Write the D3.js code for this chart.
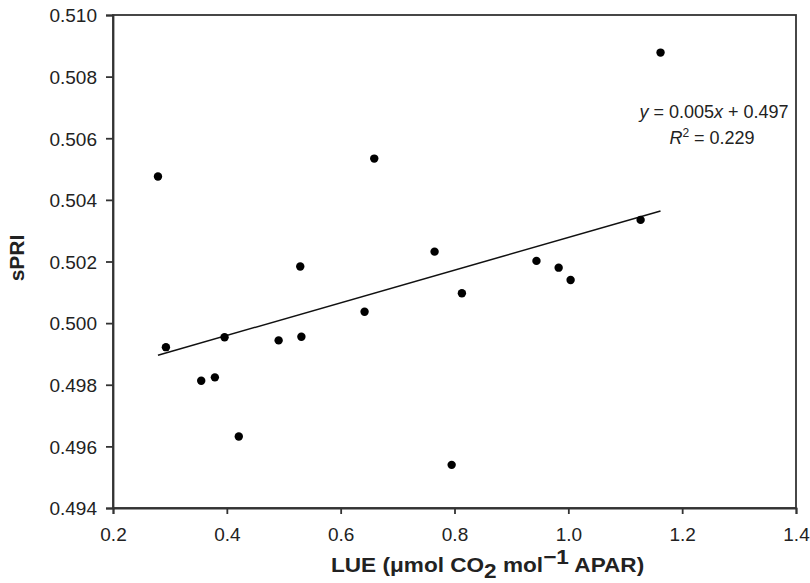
<!DOCTYPE html>
<html><head><meta charset="utf-8">
<script src="https://cdn.jsdelivr.net/npm/d3@7"></script>
<style>body{margin:0;background:#fff}svg{display:block}text{font-family:"Liberation Sans",Arial,sans-serif;fill:#222}</style>
</head><body>
<svg id="c" width="810" height="583"></svg>
<script>
const lueValues = [0.279,0.293,0.355,0.379,0.396,0.421,0.491,0.529,0.531,0.642,0.659,0.765,0.795,0.813,0.944,0.983,1.004,1.127,1.162];
const spriValues = [0.50476,0.49922,0.49813,0.49824,0.49954,0.49632,0.49944,0.50184,0.49956,0.50037,0.50534,0.50232,0.49540,0.50097,0.50202,0.50180,0.50140,0.50335,0.50878];
const xTicks = [0.2,0.4,0.6,0.8,1.0,1.2,1.4];
const yTicks = [0.494,0.496,0.498,0.500,0.502,0.504,0.506,0.508,0.510];
const fitSlope = 0.0053;
const fitIntercept = 0.49748;
const r2Value = "0.229";

const svg = d3.select("#c");
const L=113, R=796, T=15, B=508;
const x = d3.scaleLinear().domain([0.2,1.4]).range([L,R]);
const y = d3.scaleLinear().domain([0.494,0.510]).range([B,T]);

svg.append("rect").attr("x",L).attr("y",T).attr("width",R-L).attr("height",B-T)
  .attr("fill","none").attr("stroke","#333").attr("stroke-width",1.8);

const xa = svg.append("g").attr("transform",`translate(0,${B})`)
  .call(d3.axisBottom(x).tickValues(xTicks).tickFormat(d3.format(".1f")).tickSize(6).tickPadding(14));
const ya = svg.append("g").attr("transform",`translate(${L},0)`)
  .call(d3.axisLeft(y).tickValues(yTicks).tickFormat(d3.format(".3f")).tickSize(7).tickPadding(9));
[xa,ya].forEach(g=>{
  g.attr("font-size",19).attr("font-family","'Liberation Sans',Arial,sans-serif");
  g.select(".domain").attr("stroke","#333").attr("stroke-width",1.8);
  g.selectAll(".tick line").attr("stroke","#333").attr("stroke-width",1.8);
  g.selectAll(".tick text").attr("fill","#222").style("font-size","19px");
});
ya.selectAll(".tick text").attr("dy","0.36em");

const xmin = d3.min(lueValues), xmax = d3.max(lueValues);
svg.append("line")
  .attr("x1",x(xmin)).attr("y1",y(fitSlope*xmin+fitIntercept))
  .attr("x2",x(xmax)).attr("y2",y(fitSlope*xmax+fitIntercept))
  .attr("stroke","#111").attr("stroke-width",1.5);

svg.append("g").selectAll("circle").data(lueValues.map((v,i)=>[v,spriValues[i]]))
  .join("circle").attr("cx",d=>x(d[0])).attr("cy",d=>y(d[1])).attr("r",4.2).attr("fill","#000");

const eq = svg.append("text").attr("x",714).attr("y",118).attr("text-anchor","middle").style("font-size","18px");
eq.append("tspan").attr("font-style","italic").text("y");
eq.append("tspan").text(" = 0.005");
eq.append("tspan").attr("font-style","italic").text("x");
eq.append("tspan").text(" + 0.497");
const r2 = svg.append("text").attr("x",712).attr("y",144).attr("text-anchor","middle").style("font-size","18px");
r2.append("tspan").attr("font-style","italic").text("R");
r2.append("tspan").style("font-size","12px").attr("dy",-7).text("2");
r2.append("tspan").attr("dy",7).text(" = " + r2Value);

svg.append("text").attr("transform",`translate(24,258) rotate(-90)`)
  .attr("text-anchor","middle").style("font-size","21px").attr("font-weight","bold").text("sPRI");
const xt = svg.append("text").attr("transform","translate(331,572) scale(1.13,1)")
  .style("font-size","20px").attr("font-weight","bold");
xt.append("tspan").text("LUE (\u03bcmol CO");
xt.append("tspan").attr("dy",6).text("2");
xt.append("tspan").attr("dy",-6).text(" mol");
xt.append("tspan").attr("dy",-8).text("\u22121");
xt.append("tspan").attr("dy",8).text(" APAR)");
</script>
</body></html>
